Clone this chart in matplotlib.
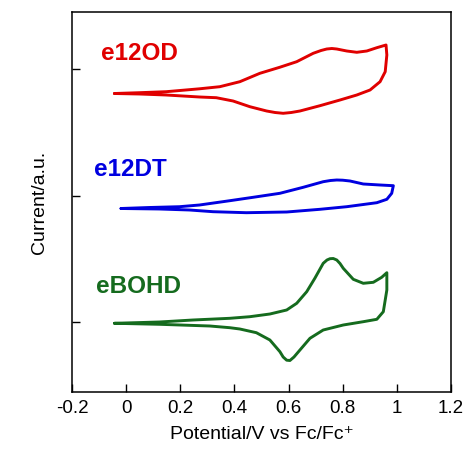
import matplotlib
matplotlib.use("Agg")
import matplotlib.pyplot as plt

plt.rcParams['font.family'] = ['Liberation Sans', 'DejaVu Sans']

# e12OD (red) : potential (V) and current (a.u., offset included)
od_x = [-0.043, 0.049, 0.148, 0.271, 0.346, 0.42, 0.494, 0.567, 0.630, 0.691, 0.720,
        0.741, 0.760, 0.778, 0.815, 0.852, 0.889, 0.926, 0.960,
        0.963, 0.957, 0.938, 0.901,
        0.852, 0.79, 0.716, 0.642, 0.61, 0.58, 0.55, 0.519, 0.457, 0.395, 0.333,
        0.271, 0.148, 0.049, -0.043]
od_y = [298.5, 299.3, 300.3, 303.2, 305.3, 310.3, 318.7, 324.7, 330.3, 338.7, 341.5,
        343.0, 343.5, 343.0, 341.0, 339.7, 341.0, 344.3, 347.0,
        337.0, 320.3, 310.3, 302.0,
        297.0, 292.0, 286.3, 281.0, 279.5, 278.7, 279.5, 281.0, 285.3, 291.0, 294.3,
        295.0, 297.0, 298.0, 298.5]

# e12DT (blue)
dt_x = [-0.019, 0.086, 0.197, 0.271, 0.383, 0.469, 0.568, 0.654, 0.728, 0.755, 0.778,
        0.800, 0.827, 0.876, 0.938, 0.987,
        0.981, 0.963, 0.926,
        0.815, 0.716, 0.593, 0.444, 0.321, 0.234, 0.123, -0.019]
dt_y = [183.5, 184.5, 185.3, 187.0, 191.3, 194.7, 198.7, 204.7, 210.3, 211.5, 212.0,
        211.8, 211.0, 208.0, 207.0, 206.3,
        198.7, 192.7, 189.3,
        185.3, 182.7, 180.0, 179.3, 180.3, 182.0, 183.0, 183.5]

# eBOHD (green)
bo_x = [-0.043, 0.123, 0.247, 0.383, 0.457, 0.531, 0.593, 0.630, 0.667, 0.697, 0.728,
        0.742, 0.753, 0.765, 0.778, 0.790, 0.802, 0.839, 0.876, 0.913, 0.944, 0.963,
        0.963, 0.950, 0.926, 0.876,
        0.802, 0.728, 0.679, 0.642, 0.620, 0.605, 0.593, 0.580, 0.568, 0.531, 0.481,
        0.42, 0.383, 0.309, 0.123, -0.043]
bo_y = [68.7, 70.0, 72.0, 73.7, 75.3, 78.0, 82.0, 88.7, 100.3, 113.7, 128.7,
        132.0, 133.3, 133.5, 132.0, 128.5, 123.7, 112.7, 108.7, 109.7, 114.7, 119.3,
        102.0, 80.3, 72.7, 70.3,
        67.0, 62.0, 53.7, 42.0, 35.0, 31.5, 31.8, 35.0, 40.3, 52.0, 59.3,
        63.0, 64.3, 66.0, 67.7, 68.7]

names = ["e12OD", "e12DT", "eBOHD"]
colors = ["#e00000", "#0000e0", "#156b1e"]
label_pos = [(-0.093, 339), (-0.117, 222.5), (-0.111, 105.5)]
xticks = [-0.2, 0, 0.2, 0.4, 0.6, 0.8, 1.0, 1.2]
xticklabels = ["-0.2", "0", "0.2", "0.4", "0.6", "0.8", "1", "1.2"]
yticks = [70.3, 196, 323]

fig = plt.figure(figsize=(4.65, 4.5), dpi=100)
ax = fig.add_axes([72/465, 1-392/450, (451-72)/465, (392-12)/450])

for (xs, ys), c in zip([(od_x, od_y), (dt_x, dt_y), (bo_x, bo_y)], colors):
    ax.plot(xs, ys, color=c, lw=2.1, solid_joinstyle='round', solid_capstyle='round')

for name, c, (lx, ly) in zip(names, colors, label_pos):
    ax.text(lx, ly, name, color=c, fontsize=17.5, fontweight='bold', ha='left', va='center')

ax.set_xlim(-0.2, 1.2)
ax.set_ylim(0, 380)
ax.set_xticks(xticks)
ax.set_xticklabels(xticklabels, fontsize=13.5)
ax.set_yticks(yticks)
ax.set_yticklabels([])
ax.tick_params(axis='both', direction='in', length=5.5, width=1.0)
ax.tick_params(axis='x', pad=6)
for s in ax.spines.values():
    s.set_linewidth(1.1)
ax.set_xlabel("Potential/V vs Fc/Fc\u207a", fontsize=14, labelpad=6)
ax.set_ylabel("Current/a.u.", fontsize=14, labelpad=14)

fig.savefig("out.png", dpi=100)
